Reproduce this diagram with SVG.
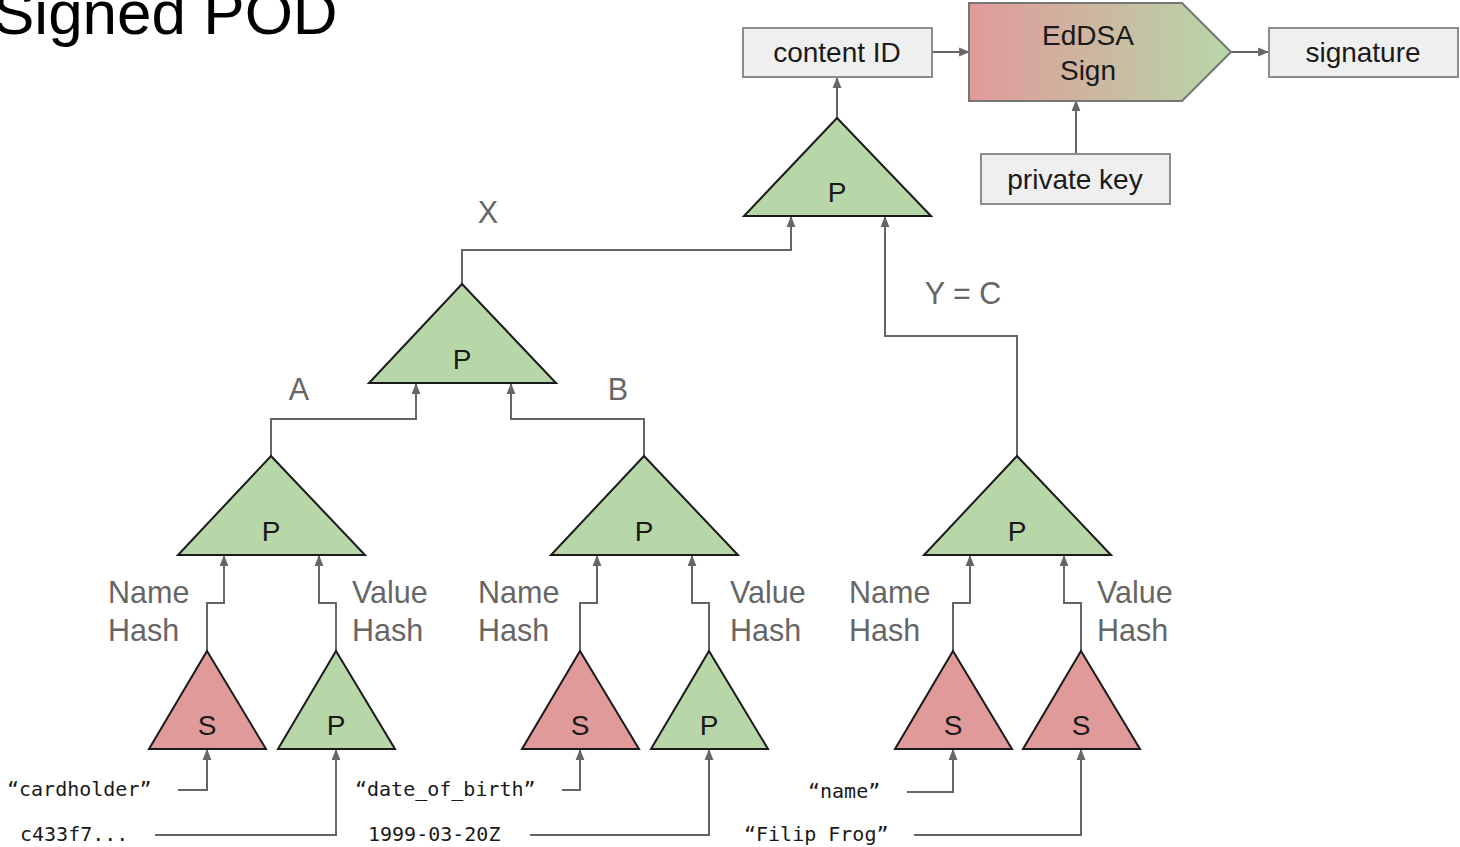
<svg xmlns="http://www.w3.org/2000/svg" width="1460" height="847" viewBox="0 0 1460 847">
  <defs>
    <marker id="arr" viewBox="0 0 10 10" refX="9" refY="5" markerWidth="11" markerHeight="11" markerUnits="userSpaceOnUse" orient="auto">
      <path d="M0,1 L10,5 L0,9 z" fill="#666"/>
    </marker>
    <linearGradient id="signGrad" x1="0" y1="0" x2="1" y2="0">
      <stop offset="0" stop-color="#e09a9a"/>
      <stop offset="1" stop-color="#b7d7a8"/>
    </linearGradient>
    <style>
      .wire { fill: none; stroke: #666; stroke-width: 2; }
      .arr { marker-end: url(#arr); }
      .tri-p { fill: #b7d7a8; stroke: #1a1a1a; stroke-width: 2; stroke-linejoin: miter; }
      .tri-s { fill: #e09a9a; stroke: #1a1a1a; stroke-width: 2; stroke-linejoin: miter; }
      .box { fill: #efefef; stroke: #8c8c8c; stroke-width: 2; }
      .node-t { font-family: "Liberation Sans", Arial, sans-serif; font-size: 28px; fill: #1a1a1a; text-anchor: middle; }
      .lbl { font-family: "Liberation Sans", Arial, sans-serif; font-size: 30.5px; fill: #666; }
      .mono { font-family: "DejaVu Sans Mono", "Liberation Mono", monospace; font-size: 20px; fill: #1a1a1a; }
    </style>
  </defs>

  <rect width="1460" height="847" fill="#ffffff"/>

  <!-- title -->
  <text x="-7" y="34" font-family="Liberation Sans, Arial, sans-serif" font-size="62" fill="#000">Signed POD</text>

  <!-- connectors -->
  <g id="connectors">
    <!-- signing chain -->
    <path class="wire arr" d="M837,118 V78"/>
    <path class="wire arr" d="M932,52 H969"/>
    <path class="wire arr" d="M1231,52 H1268"/>
    <path class="wire arr" d="M1076,154 V101"/>
    <!-- into root -->
    <path class="wire arr" d="M462,284 V250 H791 V217"/>
    <path class="wire arr" d="M1017,456 V336 H885 V217"/>
    <!-- into left subtree -->
    <path class="wire arr" d="M271,456 V419 H416 V384"/>
    <path class="wire arr" d="M644,456 V419 H511 V384"/>
    <!-- leaf hashes into entry nodes -->
    <path class="wire arr" d="M207,651 V603 H224 V556"/>
    <path class="wire arr" d="M336,651 V603 H319 V556"/>
    <path class="wire arr" d="M580,651 V603 H597 V556"/>
    <path class="wire arr" d="M709,651 V603 H692 V556"/>
    <path class="wire arr" d="M953,651 V603 H970 V556"/>
    <path class="wire arr" d="M1081,651 V603 H1064 V556"/>
    <!-- raw inputs into leaves -->
    <path class="wire arr" d="M178,790 H207 V750"/>
    <path class="wire arr" d="M155,835 H336 V750"/>
    <path class="wire arr" d="M562,790 H580 V750"/>
    <path class="wire arr" d="M530,835 H709 V750"/>
    <path class="wire arr" d="M907,792 H953 V750"/>
    <path class="wire arr" d="M914,835 H1081 V750"/>
  </g>

  <!-- edge labels -->
  <g id="edge-labels">
    <text class="lbl" x="488" y="223" text-anchor="middle">X</text>
    <text class="lbl" x="963" y="304" text-anchor="middle">Y = C</text>
    <text class="lbl" x="299" y="400" text-anchor="middle">A</text>
    <text class="lbl" x="618" y="400" text-anchor="middle">B</text>
    <text class="lbl" x="108" y="603">Name</text>
    <text class="lbl" x="108" y="641">Hash</text>
    <text class="lbl" x="352" y="603">Value</text>
    <text class="lbl" x="352" y="641">Hash</text>
    <text class="lbl" x="478" y="603">Name</text>
    <text class="lbl" x="478" y="641">Hash</text>
    <text class="lbl" x="730" y="603">Value</text>
    <text class="lbl" x="730" y="641">Hash</text>
    <text class="lbl" x="849" y="603">Name</text>
    <text class="lbl" x="849" y="641">Hash</text>
    <text class="lbl" x="1097" y="603">Value</text>
    <text class="lbl" x="1097" y="641">Hash</text>
  </g>

  <!-- boxes -->
  <g id="content-id">
    <rect class="box" x="743" y="28" width="189" height="49"/>
    <text class="node-t" x="837" y="62">content ID</text>
  </g>
  <g id="eddsa-sign">
    <path d="M969,3 H1182 L1231,52 L1182,101 H969 Z" fill="url(#signGrad)" stroke="#777" stroke-width="2"/>
    <text class="node-t" x="1088" y="45">EdDSA</text>
    <text class="node-t" x="1088" y="80">Sign</text>
  </g>
  <g id="signature">
    <rect class="box" x="1269" y="28" width="189" height="49"/>
    <text class="node-t" x="1363" y="62">signature</text>
  </g>
  <g id="private-key">
    <rect class="box" x="981" y="154" width="189" height="50"/>
    <text class="node-t" x="1075" y="189">private key</text>
  </g>

  <!-- tree nodes -->
  <g id="root">
    <polygon class="tri-p" points="837,118 931,216 744,216"/>
    <text class="node-t" x="837" y="202">P</text>
  </g>
  <g id="node-x">
    <polygon class="tri-p" points="462,284 556,383 369,383"/>
    <text class="node-t" x="462" y="369">P</text>
  </g>
  <g id="entry-a">
    <polygon class="tri-p" points="271,456 365,555 178,555"/>
    <text class="node-t" x="271" y="541">P</text>
  </g>
  <g id="entry-b">
    <polygon class="tri-p" points="644,456 738,555 551,555"/>
    <text class="node-t" x="644" y="541">P</text>
  </g>
  <g id="entry-c">
    <polygon class="tri-p" points="1017,456 1111,555 924,555"/>
    <text class="node-t" x="1017" y="541">P</text>
  </g>

  <g id="leaf-a-name">
    <polygon class="tri-s" points="207,651 266,749 149,749"/>
    <text class="node-t" x="207" y="735">S</text>
  </g>
  <g id="leaf-a-value">
    <polygon class="tri-p" points="336,651 395,749 278,749"/>
    <text class="node-t" x="336" y="735">P</text>
  </g>
  <g id="leaf-b-name">
    <polygon class="tri-s" points="580,651 639,749 522,749"/>
    <text class="node-t" x="580" y="735">S</text>
  </g>
  <g id="leaf-b-value">
    <polygon class="tri-p" points="709,651 768,749 651,749"/>
    <text class="node-t" x="709" y="735">P</text>
  </g>
  <g id="leaf-c-name">
    <polygon class="tri-s" points="953,651 1012,749 895,749"/>
    <text class="node-t" x="953" y="735">S</text>
  </g>
  <g id="leaf-c-value">
    <polygon class="tri-s" points="1081,651 1140,749 1023,749"/>
    <text class="node-t" x="1081" y="735">S</text>
  </g>

  <!-- raw inputs -->
  <g id="inputs">
    <text class="mono" x="7" y="796">“cardholder”</text>
    <text class="mono" x="20" y="841">c433f7...</text>
    <text class="mono" x="355" y="796">“date_of_birth”</text>
    <text class="mono" x="368" y="841">1999-03-20Z</text>
    <text class="mono" x="808" y="798">“name”</text>
    <text class="mono" x="744" y="841">“Filip Frog”</text>
  </g>
</svg>
